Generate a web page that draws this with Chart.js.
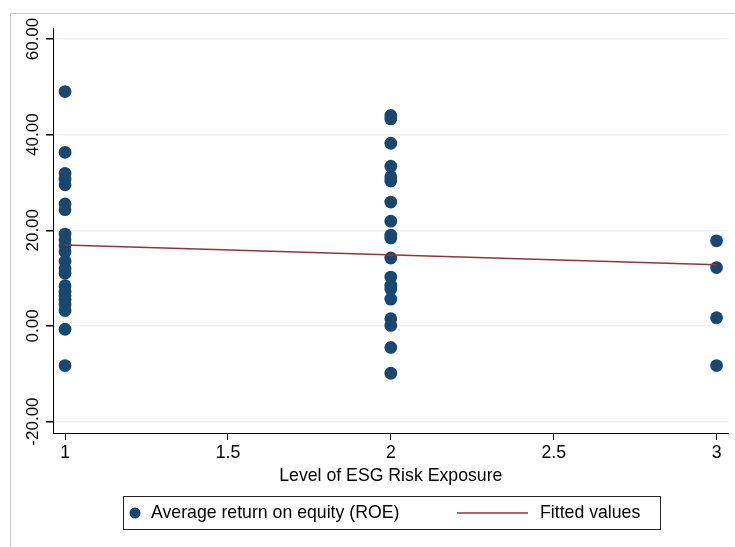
<!DOCTYPE html>
<html>
<head>
<meta charset="utf-8">
<title>ROE by level of ESG risk exposure</title>
<script src="https://cdn.jsdelivr.net/npm/chart.js@4.4.1/dist/chart.umd.min.js"></script>
<style>
    html, body { margin: 0; padding: 0; background: #ffffff; }
    #wrap { position: relative; width: 735px; height: 547px; }
</style>
</head>
<body>
<div id="wrap"><canvas id="roeChart" width="735" height="547"></canvas></div>
<script>
    // Average ROE per firm, grouped by level of ESG risk exposure
    const roeLevel1 = [49.0, 36.3, 31.9, 30.7, 29.5, 25.5, 24.3, 19.2, 18.0, 16.8, 15.5, 13.5,
                       12.0, 11.0, 8.4, 7.2, 6.3, 5.5, 4.5, 3.2, -0.7, -8.3];
    const roeLevel2 = [44.0, 43.3, 38.2, 33.4, 31.2, 30.3, 25.9, 21.9, 19.0, 18.4, 14.2, 10.2,
                       8.5, 7.7, 5.6, 1.5, 0.1, -4.5, -9.9];
    const roeLevel3 = [17.8, 12.2, 1.7, -8.3];

    // Linear fit (ROE on exposure level), evaluated at both ends
    const fitX = [1, 3];
    const fitY = [16.9, 12.8];

    const xTicks = [1, 1.5, 2, 2.5, 3];
    const yTicks = [-20, 0, 20, 40, 60];

    const seriesLabels = ["Average return on equity (ROE)", "Fitted values"];

    const NAVY = "#1a476f";
    const MAROON = "#90353b";
    const FONT = "'Liberation Sans', Arial, Helvetica, sans-serif";

    //build scatter points from the groups
    let roePoints = [];
    [[1, roeLevel1], [2, roeLevel2], [3, roeLevel3]].forEach(([level, vals]) => {
        vals.forEach(v => roePoints.push({ x: level, y: v }));
    });
    let fitPoints = fitX.map((x, i) => ({ x: x, y: fitY[i] }));

    // outer frame, rotated y labels, axis title and boxed legend
    const stataDecor = {
        id: "stataDecor",
        beforeDraw(chart) {
            let ctx = chart.ctx;
            ctx.save();
            ctx.fillStyle = "#ffffff";
            ctx.fillRect(0, 0, chart.width, chart.height);
            ctx.strokeStyle = "#c8c8c8";
            ctx.lineWidth = 1;
            ctx.strokeRect(10.5, 13.5, chart.width + 20, chart.height + 20);
            ctx.restore();
        },
        afterDraw(chart) {
            let ctx = chart.ctx;
            let y = chart.scales.y;
            let area = chart.chartArea;
            ctx.save();
            ctx.fillStyle = "#000000";
            ctx.font = "17px " + FONT;

            // y tick labels, reading bottom to top
            yTicks.forEach(v => {
                ctx.save();
                ctx.translate(38, y.getPixelForValue(v));
                ctx.rotate(-Math.PI / 2);
                ctx.textAlign = "center";
                ctx.textBaseline = "alphabetic";
                ctx.fillText(v.toFixed(2), 0, 0);
                ctx.restore();
            });

            ctx.font = "17.7px " + FONT;

            // x axis title
            ctx.textAlign = "center";
            ctx.textBaseline = "middle";
            ctx.fillText("Level of ESG Risk Exposure", (area.left + area.right) / 2, 476);

            // legend box
            ctx.fillStyle = "#ffffff";
            ctx.fillRect(123.5, 496.5, 537, 33);
            ctx.strokeStyle = "#222222";
            ctx.lineWidth = 1;
            ctx.strokeRect(123.5, 496.5, 537, 33);

            ctx.fillStyle = NAVY;
            ctx.beginPath();
            ctx.arc(135, 513, 5.5, 0, Math.PI * 2);
            ctx.fill();

            ctx.strokeStyle = MAROON;
            ctx.lineWidth = 1.5;
            ctx.beginPath();
            ctx.moveTo(457, 513);
            ctx.lineTo(528, 513);
            ctx.stroke();

            ctx.fillStyle = "#000000";
            ctx.textAlign = "left";
            ctx.fillText(seriesLabels[0], 151, 513);
            ctx.fillText(seriesLabels[1], 540, 513);
            ctx.restore();
        }
    };

    let ctx = document.getElementById("roeChart").getContext("2d");

    let roeChart = new Chart(ctx, {
        type: "scatter",
        data: {
            datasets: [
                {
                    type: "line",
                    label: seriesLabels[1],
                    data: fitPoints,
                    borderColor: MAROON,
                    borderWidth: 1.5,
                    pointRadius: 0,
                    fill: false,
                    order: 0
                },
                {
                    label: seriesLabels[0],
                    data: roePoints,
                    backgroundColor: NAVY,
                    borderWidth: 0,
                    pointRadius: 6.4,
                    order: 1
                }
            ]
        },
        options: {
            responsive: false,
            animation: false,
            layout: { padding: { left: 0, top: 28, right: 5, bottom: 0 } },
            plugins: {
                legend: { display: false },
                tooltip: { enabled: false }
            },
            scales: {
                x: {
                    type: "linear",
                    min: 0.963,
                    max: 3.037,
                    afterBuildTicks: s => { s.ticks = xTicks.map(v => ({ value: v })); },
                    afterFit: s => { s.height = 114; },
                    grid: {
                        drawOnChartArea: false,
                        drawTicks: true,
                        tickLength: 7,
                        tickColor: "#000000"
                    },
                    border: { display: true, color: "#000000", width: 1 },
                    ticks: {
                        color: "#000000",
                        padding: 2,
                        maxRotation: 0,
                        font: { family: FONT, size: 17.7 },
                        callback: v => String(v)
                    }
                },
                y: {
                    type: "linear",
                    min: -22.4,
                    max: 62.3,
                    afterBuildTicks: s => { s.ticks = yTicks.map(v => ({ value: v })); },
                    afterFit: s => { s.width = 53; },
                    grid: {
                        color: "#eaf2f3",
                        lineWidth: 1.5,
                        drawTicks: true,
                        tickLength: 7,
                        tickColor: "#000000"
                    },
                    border: { display: true, color: "#000000", width: 1 },
                    ticks: { display: false }
                }
            }
        },
        plugins: [stataDecor]
    });
</script>
</body>
</html>
